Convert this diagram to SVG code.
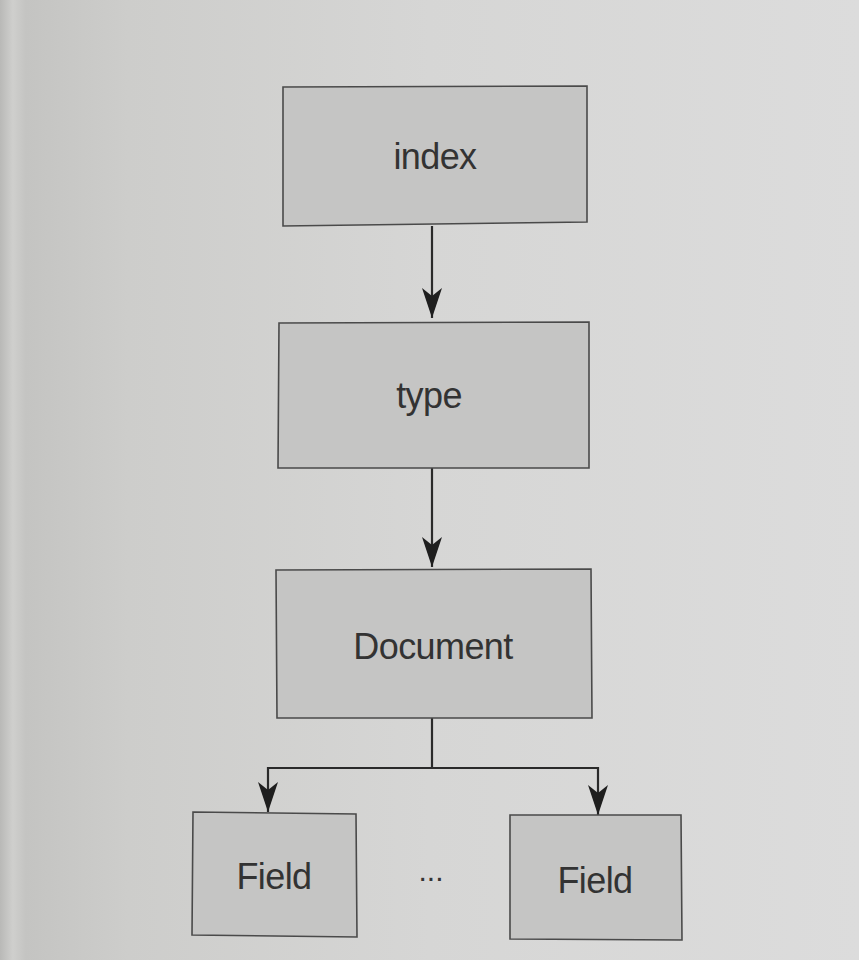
<svg xmlns="http://www.w3.org/2000/svg" width="859" height="960" viewBox="0 0 859 960">
<defs>
<linearGradient id="page" x1="0" y1="0" x2="1" y2="0">
<stop offset="0" stop-color="#b9b9b7"/>
<stop offset="0.015" stop-color="#cfcfcd"/>
<stop offset="0.03" stop-color="#c4c4c2"/>
<stop offset="0.15" stop-color="#cdcdcb"/>
<stop offset="0.5" stop-color="#d6d6d5"/>
<stop offset="1" stop-color="#dcdcdc"/>
</linearGradient>
<marker id="arr" viewBox="0 0 30 20" markerWidth="30" markerHeight="20" refX="30" refY="10" orient="auto" markerUnits="userSpaceOnUse">
<path d="M0,0 L8,10 L0,20 L30,10 Z" fill="#1e1e1e"/>
</marker>
</defs>
<style>
.box{fill:#c5c5c4;stroke:#4a4a4a;stroke-width:1.6}
.lbl{font-family:"Liberation Sans",Arial,sans-serif;font-size:36px;fill:#333333;text-anchor:middle;letter-spacing:-0.6px}
.ln{fill:none;stroke:#2a2a2a;stroke-width:2.2}
</style>
<rect x="0" y="0" width="859" height="960" fill="url(#page)"/>
<g id="connectors">
<path class="ln" d="M432,226 L432,318" marker-end="url(#arr)"/>
<path class="ln" d="M432,468 L432,567" marker-end="url(#arr)"/>
<path class="ln" d="M432,718 L432,768 M268,768 L598,768"/>
<path class="ln" d="M268,767 L268,812" marker-end="url(#arr)"/>
<path class="ln" d="M598,767 L598,815" marker-end="url(#arr)"/>
</g>
<g id="node-index">
<polygon class="box" points="283,87 587,86 587,222 283,226"/>
<text class="lbl" x="435" y="169">index</text>
</g>
<g id="node-type">
<polygon class="box" points="279,323 589,322 589,468 278,468"/>
<text class="lbl" x="429" y="408">type</text>
</g>
<g id="node-document">
<polygon class="box" points="276,570 591,569 592,718 277,718"/>
<text class="lbl" x="433" y="659">Document</text>
</g>
<g id="node-field1">
<polygon class="box" points="193,812 356,814 357,937 192,935"/>
<text class="lbl" x="274" y="889">Field</text>
</g>
<g id="node-ellipsis">
<text class="lbl" x="431" y="881" style="font-size:30px;letter-spacing:0">...</text>
</g>
<g id="node-field2">
<polygon class="box" points="510,815 681,815 682,940 510,939"/>
<text class="lbl" x="595" y="893">Field</text>
</g>
</svg>
